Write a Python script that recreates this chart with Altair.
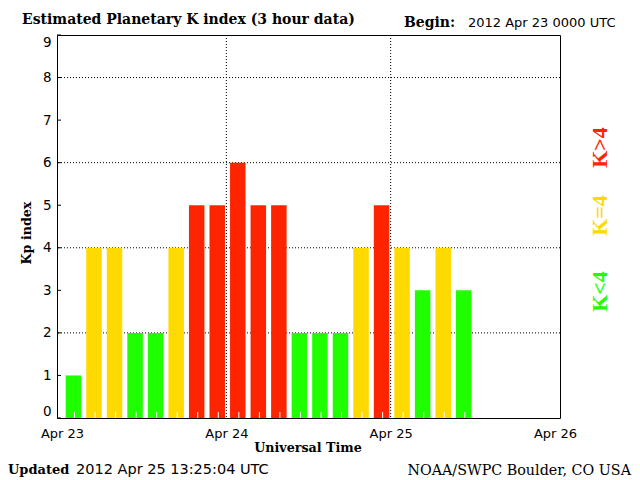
import altair as alt
import pandas as pd

# ---- data ----
start_hours = [0, 3, 6, 9, 12, 15, 18, 21, 24, 27, 30, 33, 36, 39, 42, 45, 48, 51, 54, 57]
kp_values = [1, 4, 4, 2, 2, 4, 5, 5, 6, 5, 5, 2, 2, 2, 4, 5, 4, 3, 4, 3]
day_ticks = [0, 24, 48, 72]
day_labels = ["Apr 23", "Apr 24", "Apr 25", "Apr 26"]
kp_ticks = [0, 1, 2, 3, 4, 5, 6, 7, 8, 9]
grid_kp = [2, 4, 6, 8]
grid_hours = [24, 48]
level_names = ["K<4", "K=4", "K>4"]
level_colors = ["#20ff00", "#ffda00", "#ff2400"]

df = pd.DataFrame({"hour": start_hours, "kp": kp_values})
df["level"] = ["K<4" if v < 4 else ("K=4" if v == 4 else "K>4") for v in kp_values]

W, H = 503, 383
x_scale = alt.Scale(domain=[0, 72], nice=False, zero=False)
y_scale = alt.Scale(domain=[0, 9], nice=False)

label_expr = "[" + ",".join(f"'{l}'" for l in day_labels) + "][indexof([" + \
    ",".join(str(t) for t in day_ticks) + "], datum.value)]"

x_axis = alt.Axis(
    values=day_ticks, labelExpr=label_expr, title=None, ticks=False, tickSize=0,
    domain=False, grid=False, labelFont="DejaVu Sans", labelFontSize=13,
    labelColor="black", labelPadding=19, labelBaseline="alphabetic",
    labelFlush=False, labelOverlap=False, labelAngle=0)
y_axis = alt.Axis(
    values=kp_ticks, title=None, ticks=False, tickSize=0, domain=False, grid=False,
    labelFont="DejaVu Sans", labelFontSize=13.5, labelColor="black",
    labelPadding=6, labelFlush=True, labelOverlap=False)

grid_y = alt.Chart(pd.DataFrame({"kp": grid_kp})).mark_rule(
    color="black", strokeDash=[1, 2], strokeWidth=1
).encode(y=alt.Y("kp:Q", scale=y_scale, axis=y_axis))

grid_x = alt.Chart(pd.DataFrame({"hour": grid_hours})).mark_rule(
    color="black", strokeDash=[1, 2], strokeWidth=1
).encode(x=alt.X("hour:Q", scale=x_scale, axis=x_axis))

y_tick_marks = alt.Chart(pd.DataFrame({"kp": kp_ticks})).mark_rule(
    color="black", strokeWidth=1
).encode(y=alt.Y("kp:Q", scale=y_scale, axis=y_axis), x=alt.value(0), x2=alt.value(4))

bars = alt.Chart(df).mark_bar(width=15.5, xOffset=11.45).encode(
    x=alt.X("hour:Q", scale=x_scale, axis=x_axis),
    y=alt.Y("kp:Q", scale=y_scale, axis=y_axis),
    color=alt.Color("level:N", scale=alt.Scale(domain=level_names, range=level_colors), legend=None),
)

white_ticks = alt.Chart(df).mark_rule(color="white", strokeWidth=1, xOffset=12.5).encode(
    x=alt.X("hour:Q", scale=x_scale, axis=x_axis), y=alt.value(H), y2=alt.value(H - 6)
)


def label(text, x, y, font, size, weight="normal", align="left", angle=0, color="black"):
    return alt.Chart(pd.DataFrame({"t": [text]})).mark_text(
        font=font, fontSize=size, fontWeight=weight, align=align,
        baseline="alphabetic", angle=angle, color=color
    ).encode(x=alt.value(x), y=alt.value(y), text="t:N")


texts = [
    label("Estimated Planetary K index (3 hour data)", -35, -11, "DejaVu Serif", 14, "bold"),
    label("Begin:", 347, -8, "DejaVu Serif", 14, "bold"),
    label("2012 Apr 23 0000 UTC", 411, -8, "DejaVu Sans", 13),
    label("Kp index", -26, 198, "DejaVu Serif", 12.7, "bold", "center", 270),
    label("Universal Time", 251, 417, "DejaVu Serif", 12.7, "bold", "center"),
    label("Updated", -49, 439, "DejaVu Serif", 13, "bold"),
    label("2012 Apr 25 13:25:04 UTC", 19, 439, "DejaVu Sans", 14.5),
    label("NOAA/SWPC Boulder, CO USA", 574, 440, "DejaVu Serif", 14.3, "normal", "right"),
    label("K>4", 550, 112.5, "Liberation Serif", 22, "bold", "center", 270, level_colors[2]),
    label("K=4", 550, 180.5, "Liberation Serif", 22, "bold", "center", 270, level_colors[1]),
    label("K<4", 550, 256.5, "Liberation Serif", 22, "bold", "center", 270, level_colors[0]),
]

chart = alt.layer(grid_y, grid_x, y_tick_marks, bars, white_ticks, *texts).properties(
    width=W, height=H,
    padding={"left": 49, "top": 27, "right": 72, "bottom": 62},
    autosize=alt.AutoSizeParams(type="none"),
    background="white",
).configure_view(stroke="black", strokeWidth=1)

chart.save("out.html", embed_options={"renderer": "svg", "actions": False})
